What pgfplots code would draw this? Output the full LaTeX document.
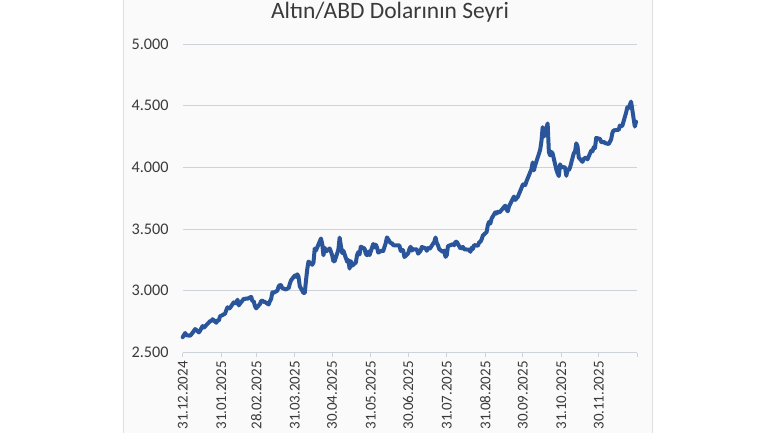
\documentclass[border=0pt]{standalone}
\usepackage{fontspec}
\setmainfont{Carlito}
\usepackage{pgfplots}
\pgfplotsset{compat=1.18}
\definecolor{goldline}{HTML}{2A559A}
\definecolor{gridc}{HTML}{CDD2DB}
\definecolor{labc}{HTML}{3A3A3A}
\begin{document}
\begin{tikzpicture}[x=1pt,y=1pt]
\useasboundingbox (0,0) rectangle (770,432);
\fill[white] (0,0) rectangle (770,432);
\filldraw[fill=black!2, draw=black!12] (123,-5) rectangle (652,437);
\node[anchor=base, text=labc, font=\fontsize{23.5}{28}\selectfont] at (390,413) {Altın/ABD Dolarının Seyri};
\begin{axis}[
  at={(182.7pt,79.5pt)}, anchor=south west,
  scale only axis, width=454.6pt, height=308.5pt,
  xmin=0, xmax=365, ymin=2500, ymax=5000,
  axis x line*=bottom, axis y line*=left,
  x axis line style={draw=gridc, line width=1pt, -},
  y axis line style={draw=none},
  xtick={0,31,59,90,120,151,181,212,243,273,304,334,365},
  xticklabels={31.12.2024,31.01.2025,28.02.2025,31.03.2025,30.04.2025,31.05.2025,30.06.2025,31.07.2025,31.08.2025,30.09.2025,31.10.2025,30.11.2025,{}},
  ytick={2500,3000,3500,4000,4500,5000},
  yticklabels={2.500,3.000,3.500,4.000,4.500,5.000},
  tick align=outside, major tick length=4pt,
  xtick style={draw=gridc, line width=0.8pt},
  ytick style={draw=none},
  ymajorgrids, grid style={draw=gridc, line width=1pt},
  yticklabel style={font=\fontsize{16.2}{19}\selectfont, text=labc, anchor=east, inner sep=0pt, xshift=-10pt},
  xticklabel style={font=\fontsize{15}{18}\selectfont, text=labc, rotate=90, anchor=east, inner sep=0pt, xshift=-4.5pt},
  clip=false,
]
\addplot[goldline, line width=4pt, line join=round, line cap=round] coordinates {
(0,2624) (2,2658) (3,2640) (6,2636) (7,2648) (8,2661) (10,2690)
(13,2663) (14,2677) (15,2697) (16,2715) (17,2702) (21,2743) (22,2755)
(23,2754) (24,2770) (27,2741) (28,2763) (29,2760) (30,2794) (31,2798)
(34,2815) (35,2843) (36,2867) (37,2856) (38,2861) (41,2907) (42,2897)
(43,2904) (44,2928) (45,2882) (49,2935) (50,2934) (51,2938) (52,2936)
(55,2951) (56,2915) (57,2916) (58,2876) (59,2858)
(62,2893) (63,2918) (64,2920) (65,2911) (66,2910) (69,2889) (70,2916)
(71,2934) (72,2988) (73,2984) (76,3001) (77,3034) (78,3048) (79,3044)
(80,3022) (83,3010) (84,3020) (85,3019) (86,3057) (87,3085) (90,3124)
(91,3113) (92,3134) (93,3114) (94,3037) (97,2982) (98,2983) (99,3083)
(100,3176) (101,3237) (104,3211) (105,3230) (106,3342) (107,3327)
(111,3424) (112,3381) (113,3288) (114,3349) (115,3319) (118,3343)
(119,3317) (120,3288)
(121,3239) (122,3240) (125,3334) (126,3431) (127,3364) (128,3306)
(129,3325) (132,3236) (133,3249) (134,3180) (135,3240) (136,3203)
(139,3229) (140,3289) (141,3314) (142,3295) (143,3357) (146,3342)
(147,3300) (148,3288) (149,3318) (150,3289)
(153,3380) (154,3352) (155,3374) (156,3352) (157,3310) (160,3326)
(161,3322) (162,3355) (163,3386) (164,3433) (167,3385) (168,3388)
(169,3370) (170,3368) (171,3368) (174,3368) (175,3323) (176,3333)
(177,3328) (178,3274) (181,3303)
(182,3338) (183,3357) (184,3326) (185,3337) (188,3335) (189,3301)
(190,3313) (191,3324) (192,3355) (195,3344) (196,3324) (197,3347)
(198,3339) (199,3350) (202,3397) (203,3432) (204,3387) (205,3368)
(206,3337) (209,3314) (210,3326) (211,3275) (212,3289)
(213,3363) (216,3373) (217,3380) (218,3369) (219,3396) (220,3398)
(223,3343) (224,3348) (225,3356) (226,3336) (227,3336) (230,3332)
(231,3316) (232,3349) (233,3339) (234,3371) (237,3365) (238,3393)
(239,3397) (240,3416) (241,3448)
(244,3476) (245,3533) (246,3559) (247,3545) (248,3586) (251,3636)
(252,3626) (253,3641) (254,3634) (255,3643) (258,3679) (259,3690)
(260,3659) (261,3644) (262,3685) (265,3746) (266,3764) (267,3736)
(268,3749) (269,3760) (272,3833) (273,3858)
(274,3866) (275,3856) (276,3887) (279,3961) (280,3985) (281,4040)
(282,3976) (283,4018) (286,4110) (287,4143) (288,4209) (289,4326)
(290,4250) (293,4356) (294,4125) (295,4097) (296,4126) (297,4113)
(300,3982) (301,3952) (302,3930) (303,4025) (304,4002)
(307,4001) (308,3932) (309,3980) (310,3977) (311,4000) (314,4115)
(315,4126) (316,4195) (317,4170) (318,4080) (321,4045) (322,4068)
(323,4077) (324,4078) (325,4065) (328,4136) (329,4130) (330,4164)
(331,4156) (332,4239)
(335,4231) (336,4207) (337,4203) (338,4208) (339,4198) (342,4189)
(343,4208) (344,4228) (345,4280) (346,4300) (349,4304) (350,4303)
(351,4339) (352,4332) (353,4339) (356,4444) (357,4487) (358,4481)
(360,4533) (363,4331) (364,4370)
};
\end{axis}
\end{tikzpicture}
\end{document}
